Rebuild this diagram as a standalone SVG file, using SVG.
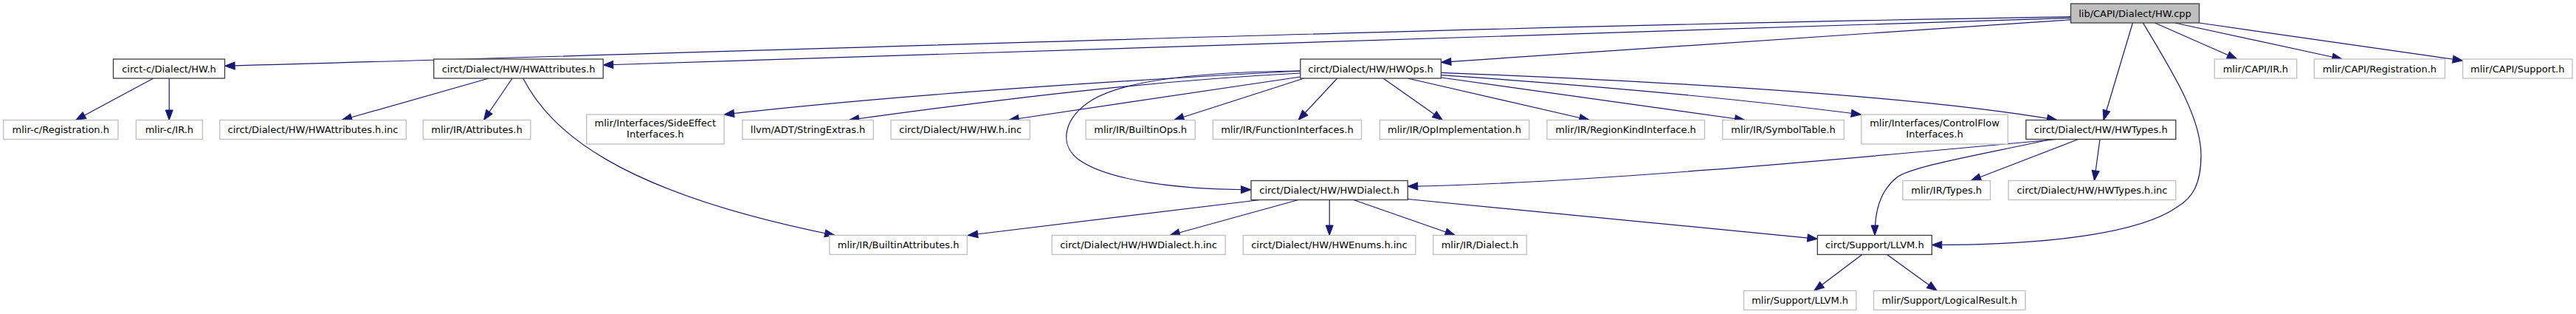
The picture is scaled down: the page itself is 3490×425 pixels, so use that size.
<svg xmlns="http://www.w3.org/2000/svg" width="3490" height="425" viewBox="0 0 3490 425">
<style>
.n rect{fill:#ffffff;stroke:#bfbfbf;stroke-width:1.33}
.d rect{fill:#ffffff;stroke:#404040;stroke-width:1.33}
.r rect{fill:#bfbfbf;stroke:#404040;stroke-width:1.33}
text{font-family:"DejaVu Sans","Liberation Sans",sans-serif;font-size:13px;fill:#000;text-anchor:middle}
#edges path{fill:none;stroke:#191970;stroke-width:1.2;marker-end:url(#arr)}
</style>
<defs>
<marker id="arr" markerUnits="userSpaceOnUse" markerWidth="14" markerHeight="11" refX="13.5" refY="5" orient="auto" overflow="visible">
<path d="M0,0 L13.5,5 L0,10 z" fill="#191970" stroke="#191970" stroke-width="1"/>
</marker>
</defs>
<rect width="3490" height="425" fill="#ffffff"/>
<g id="edges">
<path d="M2805.5,22.7 C1976,36 1147,66 304.6,89.3"/>
<path d="M2805.5,24.3 L817.2,88"/>
<path d="M2805.5,26.7 L1952.4,84.3"/>
<path d="M2889.4,31 L2850,162.5"/>
<path d="M2903.4,31 C2945,100 2982,160 2982,210 C2982,250 2970,268 2950,280 C2900,315 2780,331.5 2617.3,331.5"/>
<path d="M2919.5,31 L3030.8,80"/>
<path d="M2946.6,31 L3173.2,80"/>
<path d="M2979.5,31 L3336.6,82"/>
<path d="M207.8,106 L102.6,162.5"/>
<path d="M229.2,106 L229.2,162.5"/>
<path d="M662.3,106 L463.1,162.5"/>
<path d="M694,106 L655.4,162.5"/>
<path d="M708.6,106 C745,175 831,258.5 1131,318.5"/>
<path d="M1761.8,96 C1500,110 1200,130 981,155"/>
<path d="M1761.8,99 C1550,110 1350,135 1150.2,162.5"/>
<path d="M1761.8,104 L1366.7,162.5"/>
<path d="M1761.8,96 C1650,97 1530,105 1480,135 C1440,160 1435,195 1460,215 C1500,245 1600,256.7 1695,256.7"/>
<path d="M1766.7,106 L1590.5,162.5"/>
<path d="M1811.7,106 L1759,162.5"/>
<path d="M1874,106 L1954.3,162.5"/>
<path d="M1907.2,106 L2153.3,162.5"/>
<path d="M1952.4,105 L2364,162.5"/>
<path d="M1952.4,101.7 C2150,115 2350,133 2521.7,155"/>
<path d="M1952.4,98.3 C2250,110 2600,130 2786.9,162.5"/>
<path d="M2786.9,188.5 C2500,215 2150,248 1907.2,252.3"/>
<path d="M2779.2,188.5 C2680,210 2590,225 2570,240 C2545,260 2540,290 2540,318.5"/>
<path d="M2815.6,188.5 L2670.2,244.5"/>
<path d="M2845,188.5 L2837.4,244.5"/>
<path d="M1707.2,270.5 L1311.2,318.5"/>
<path d="M1759,270.5 L1584.8,318.5"/>
<path d="M1801.2,270.5 L1801.2,318.5"/>
<path d="M1833.8,270.5 L1971.5,318.5"/>
<path d="M1907.2,269.5 L2462.3,323.3"/>
<path d="M2522.8,344.5 L2457.8,393.5"/>
<path d="M2556.5,344.5 L2624.2,393.5"/>
</g>
<g id="root" class="r"><rect x="2805.5" y="5" width="174" height="26"/><text x="2892.5" y="22.5">lib/CAPI/Dialect/HW.cpp</text></g>
<g id="hwc" class="d"><rect x="153.5" y="80" width="151" height="26"/><text x="229" y="97.5">circt-c/Dialect/HW.h</text></g>
<g id="hwattr" class="d"><rect x="587.7" y="80" width="229.5" height="26"/><text x="702.5" y="97.5">circt/Dialect/HW/HWAttributes.h</text></g>
<g id="hwops" class="d"><rect x="1761.8" y="80" width="190.6" height="26"/><text x="1857.1" y="97.5">circt/Dialect/HW/HWOps.h</text></g>
<g id="capi_ir" class="n"><rect x="3000.2" y="80" width="111.4" height="26"/><text x="3055.9" y="97.5">mlir/CAPI/IR.h</text></g>
<g id="capi_reg" class="n"><rect x="3135.3" y="80" width="177.2" height="26"/><text x="3223.9" y="97.5">mlir/CAPI/Registration.h</text></g>
<g id="capi_sup" class="n"><rect x="3336.6" y="80" width="148.4" height="26"/><text x="3410.8" y="97.5">mlir/CAPI/Support.h</text></g>
<g id="mlirc_reg" class="n"><rect x="4.6" y="162.5" width="155.4" height="26"/><text x="82.3" y="180">mlir-c/Registration.h</text></g>
<g id="mlirc_ir" class="n"><rect x="184.4" y="162.5" width="90" height="26"/><text x="229.4" y="180">mlir-c/IR.h</text></g>
<g id="hwattr_inc" class="n"><rect x="297.7" y="162.5" width="252.6" height="26"/><text x="424" y="180">circt/Dialect/HW/HWAttributes.h.inc</text></g>
<g id="attributes" class="n"><rect x="573.2" y="162.5" width="145.7" height="26"/><text x="646" y="180">mlir/IR/Attributes.h</text></g>
<g id="sideeffect" class="n"><rect x="794.7" y="155" width="186.3" height="40"/><text x="887.8" y="171">mlir/Interfaces/SideEffect</text><text x="887.8" y="186">Interfaces.h</text></g>
<g id="stringextras" class="n"><rect x="1005.9" y="162.5" width="177.4" height="26"/><text x="1094.6" y="180">llvm/ADT/StringExtras.h</text></g>
<g id="hw_inc" class="n"><rect x="1207.1" y="162.5" width="188.2" height="26"/><text x="1301.2" y="180">circt/Dialect/HW/HW.h.inc</text></g>
<g id="builtinops" class="n"><rect x="1471.1" y="162.5" width="148.1" height="26"/><text x="1545.2" y="180">mlir/IR/BuiltinOps.h</text></g>
<g id="funciface" class="n"><rect x="1643.3" y="162.5" width="201.2" height="26"/><text x="1743.9" y="180">mlir/IR/FunctionInterfaces.h</text></g>
<g id="opimpl" class="n"><rect x="1869.3" y="162.5" width="202.5" height="26"/><text x="1970.5" y="180">mlir/IR/OpImplementation.h</text></g>
<g id="regionkind" class="n"><rect x="2095.9" y="162.5" width="213.5" height="26"/><text x="2202.6" y="180">mlir/IR/RegionKindInterface.h</text></g>
<g id="symboltable" class="n"><rect x="2333.8" y="162.5" width="164.5" height="26"/><text x="2416" y="180">mlir/IR/SymbolTable.h</text></g>
<g id="controlflow" class="n"><rect x="2521.7" y="155" width="198.6" height="40"/><text x="2621" y="171">mlir/Interfaces/ControlFlow</text><text x="2621" y="186">Interfaces.h</text></g>
<g id="hwtypes" class="d"><rect x="2744.8" y="162.5" width="203" height="26"/><text x="2846.3" y="180">circt/Dialect/HW/HWTypes.h</text></g>
<g id="hwdialect" class="d"><rect x="1695" y="244.5" width="212.2" height="26"/><text x="1801.1" y="262">circt/Dialect/HW/HWDialect.h</text></g>
<g id="types" class="n"><rect x="2577.9" y="244.5" width="118.6" height="26"/><text x="2637.2" y="262">mlir/IR/Types.h</text></g>
<g id="hwtypes_inc" class="n"><rect x="2721" y="244.5" width="226.8" height="26"/><text x="2834.4" y="262">circt/Dialect/HW/HWTypes.h.inc</text></g>
<g id="builtinattr" class="n"><rect x="1123.8" y="318.5" width="186.6" height="26"/><text x="1217.1" y="336">mlir/IR/BuiltinAttributes.h</text></g>
<g id="hwdialect_inc" class="n"><rect x="1425.2" y="318.5" width="234.9" height="26"/><text x="1542.6" y="336">circt/Dialect/HW/HWDialect.h.inc</text></g>
<g id="hwenums_inc" class="n"><rect x="1684.2" y="318.5" width="233.7" height="26"/><text x="1801" y="336">circt/Dialect/HW/HWEnums.h.inc</text></g>
<g id="dialect" class="n"><rect x="1941.7" y="318.5" width="126.6" height="26"/><text x="2005" y="336">mlir/IR/Dialect.h</text></g>
<g id="circt_llvm" class="d"><rect x="2462.3" y="318.5" width="155" height="26"/><text x="2539.8" y="336">circt/Support/LLVM.h</text></g>
<g id="mlir_llvm" class="n"><rect x="2362.5" y="393.5" width="152.3" height="26"/><text x="2438.6" y="411">mlir/Support/LLVM.h</text></g>
<g id="logicalresult" class="n"><rect x="2538.5" y="393.5" width="205.5" height="26"/><text x="2641.2" y="411">mlir/Support/LogicalResult.h</text></g>
</svg>
